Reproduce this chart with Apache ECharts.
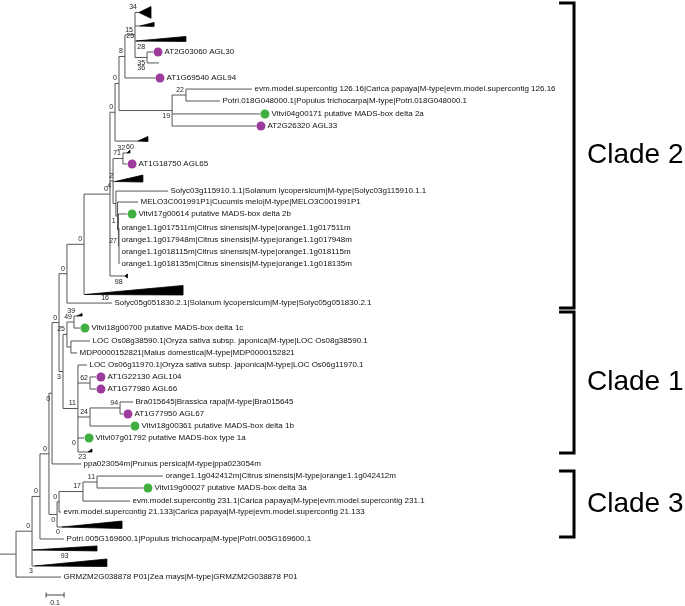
<!DOCTYPE html>
<html><head><meta charset="utf-8">
<script src="https://cdn.jsdelivr.net/npm/echarts@6/dist/echarts.min.js"></script>
<style>html,body{margin:0;padding:0;background:#fff}#c{width:685px;height:606px}</style>
</head><body><div id="c"></div>
<script>
// ---------------- DATA ----------------
// internal nodes: id, parent, depth (branch-length units; 0.1 = scale bar)
const nodeIds    = ['root','R1','AB','AC','AA','Q','P','N','J','I','E','D','A','B','F','G','K','L','SO','SP','SQ','SR','V','U','S','T','Z','W','X','Y','CD','CA','CB','CC'];
const nodeParent = [null,'root','R1','AB','AC','AA','Q','P','N','J','I','E','D','A','E','F','J','K','K','SO','SP','SQ','Q','V','U','U','V','Z','Z','X','AC','CD','CA','CB'];
const nodeDepth  = [0.089,0.178,0.222,0.272,0.289,0.328,0.372,0.467,0.611,0.639,0.661,0.694,0.750,0.817,0.956,1.033,0.628,0.683,0.644,0.653,0.658,0.661,0.350,0.372,0.411,0.394,0.433,0.500,0.500,0.667,0.317,0.328,0.461,0.539];

// terminal taxa
const leafIds = ['agl30','l63','agl94','evm126','potri018','vit04','agl33','agl65','sol03','melo','vit17','or511','or948','or115','or135','sol05','vit18c','loc08','mdp','loc06','agl104','agl66','bra','agl67','vit18b','vit07','ppa','or412','vit19','evm231','evm21','potri005','grmzm'];
const leafLabels = [
 'AT2G03060 AGL30','','AT1G69540 AGL94',
 'evm.model.supercontig 126.16|Carica papaya|M-type|evm.model.supercontig 126.16',
 'Potri.018G048000.1|Populus trichocarpa|M-type|Potri.018G048000.1',
 'Vitvi04g00171 putative MADS-box delta 2a','AT2G26320 AGL33','AT1G18750 AGL65',
 'Solyc03g115910.1.1|Solanum lycopersicum|M-type|Solyc03g115910.1.1',
 'MELO3C001991P1|Cucumis melo|M-type|MELO3C001991P1',
 'Vitvi17g00614 putative MADS-box delta 2b',
 'orange1.1g017511m|Citrus sinensis|M-type|orange1.1g017511m',
 'orange1.1g017948m|Citrus sinensis|M-type|orange1.1g017948m',
 'orange1.1g018115m|Citrus sinensis|M-type|orange1.1g018115m',
 'orange1.1g018135m|Citrus sinensis|M-type|orange1.1g018135m',
 'Solyc05g051830.2.1|Solanum lycopersicum|M-type|Solyc05g051830.2.1',
 'Vitvi18g00700 putative MADS-box delta 1c',
 'LOC Os08g38590.1|Oryza sativa subsp. japonica|M-type|LOC Os08g38590.1',
 'MDP0000152821|Malus domestica|M-type|MDP0000152821',
 'LOC Os06g11970.1|Oryza sativa subsp. japonica|M-type|LOC Os06g11970.1',
 'AT1G22130 AGL104','AT1G77980 AGL66',
 'Bra015645|Brassica rapa|M-type|Bra015645','AT1G77950 AGL67',
 'Vitvi18g00361 putative MADS-box delta 1b','Vitvi07g01792 putative MADS-box type 1a',
 'ppa023054m|Prunus persica|M-type|ppa023054m',
 'orange1.1g042412m|Citrus sinensis|M-type|orange1.1g042412m',
 'Vitvi19g00027 putative MADS-box delta 3a',
 'evm.model.supercontig 231.1|Carica papaya|M-type|evm.model.supercontig 231.1',
 'evm.model.supercontig 21.133|Carica papaya|M-type|evm.model.supercontig 21.133',
 'Potri.005G169600.1|Populus trichocarpa|M-type|Potri.005G169600.1',
 'GRMZM2G038878 P01|Zea mays|M-type|GRMZM2G038878 P01'];
const leafParent = ['B','B','D','G','G','F','F','L','SO','SP','SQ','SR','SR','SR','SR','P','S','T','T','Z','W','W','Y','Y','X','Z','AA','CC','CC','CB','CA','AB','root'];
const leafTip    = [0.850,0.883,0.861,1.400,1.222,1.444,1.422,0.706,0.933,0.767,0.706,0.661,0.661,0.661,0.661,0.622,0.444,0.500,0.428,0.483,0.533,0.533,0.739,0.683,0.722,0.467,0.450,0.906,0.794,0.722,0.339,0.356,0.339];
const leafRow    = [4.26,5.16,6.39,7.30,8.28,9.34,10.33,13.44,15.66,16.56,17.54,18.69,19.67,20.66,21.64,24.84,26.89,27.95,28.93,29.92,30.90,31.89,32.95,33.93,34.92,35.90,38.03,39.02,40.00,41.07,41.97,44.18,47.30];
const leafGroup  = ['At','','At','','','Vv','At','At','','','Vv','','','','','','Vv','','','','At','At','','At','Vv','Vv','','','Vv','','','',''];

// collapsed subtrees (triangles)
const collapsedIds    = ['T1','T2','T3','T4','TT1','T5','T98','T6','TS','TZ','T7','T8','T9'];
const collapsedParent = ['A','A','A','I','L','K','J','N','S','Z','CD','R1','R1'];
const collapsedStem   = [0.772,0.778,0.756,0.767,0.706,0.639,0.694,0.472,0.428,0.489,0.344,0.183,0.194];
const collapsedTip    = [0.839,0.856,1.033,0.822,0.722,0.794,0.708,1.017,0.456,0.511,0.678,0.539,0.594];
const collapsedRow    = [1.02,2.13,3.36,11.56,12.54,14.88,22.62,24.14,25.90,37.05,43.20,45.08,46.39];
const collapsedUp     = [0.48,0.29,0.37,0.37,0.25,0.53,0.16,0.74,0.20,0.25,0.49,0.33,0.57];
const collapsedDown   = [0.48,0.04,0.04,0.04,0,0.04,0.16,0.04,0,0,0.12,0.08,0.04];

// bootstrap support values, the item they belong to, and where they sit
const supportValues = ['34','15','25','28','35','36','8','0','0','22','19','32','60','71','2','0','4','1','27','98','0','0','16','0','39','49','25','3','11','62','94','24','0','23','0','0','0','17','11','0','0','0','0','93','3'];
const supportAt     = ['T1','A','T3','agl30','B','l63','D','E','I','G','F','TT1','TT1','L','T5','J','K','SP','SR','T98','N','P','sol05','Q','TS','S','U','V','Z','W','Y','X','vit07','TZ','AA','AC','CA','CB','CC','CD','T7','AB','R1','T8','T9'];
const supportSide   = ['a','a','a','a','b','b','a','a','a','a','b','a','f','a','a','a','b','b','a','d','a','a','e','a','a','a','a','b','a','a','a','a','b','b','b','a','a','a','a','b','b','a','a','d','b'];

// clade brackets
const groupNames  = ['Clade 2','Clade 1','Clade 3'];
const groupTop    = [0.25, 25.57, 38.61];
const groupBottom = [25.25, 37.13, 44.02];

// scale bar
const scaleLength = 0.1;
const scaleStart  = 0.256;
const scaleRow    = 48.77;

// ---------------- LAYOUT ----------------
const X_MAX = 3.8, Y_MAX = 606 / 12.2;
const FONT = '"Liberation Sans", Arial, Helvetica, sans-serif';
const BRACKET_X = 3.189, BRACKET_TICK = 3.106, GROUP_LABEL_X = 3.261;

const nIdx = {}; nodeIds.forEach((id, i) => nIdx[id] = i);
const leafIdx = {}; leafIds.forEach((id, i) => leafIdx[id] = i);
const colIdx = {}; collapsedIds.forEach((id, i) => colIdx[id] = i);
const dep = id => nodeDepth[nIdx[id]];

const termYs = nodeIds.map(() => []);
leafIds.forEach((_, i) => termYs[nIdx[leafParent[i]]].push(leafRow[i]));
collapsedIds.forEach((_, i) => termYs[nIdx[collapsedParent[i]]].push(collapsedRow[i]));
const nodeKids = nodeIds.map(() => []);
nodeParent.forEach((p, i) => { if (p) nodeKids[nIdx[p]].push(i); });
const nodeY = [], nodeSpan = [];
function solve(i) {
  if (nodeY[i] !== undefined) return nodeY[i];
  const ys = termYs[i].slice();
  nodeKids[i].forEach(c => ys.push(solve(c)));
  const lo = Math.min(...ys), hi = Math.max(...ys);
  nodeSpan[i] = [lo, hi]; nodeY[i] = (lo + hi) / 2;
  return nodeY[i];
}
nodeIds.forEach((_, i) => solve(i));

const segs = [];
nodeIds.forEach((id, i) => {
  const p = nodeParent[i];
  segs.push([p ? dep(p) : 0, nodeY[i], nodeDepth[i], nodeY[i]]);
  segs.push([nodeDepth[i], nodeSpan[i][0], nodeDepth[i], nodeSpan[i][1]]);
});
leafIds.forEach((_, i) => segs.push([dep(leafParent[i]), leafRow[i], leafTip[i], leafRow[i]]));
collapsedIds.forEach((_, i) => segs.push([dep(collapsedParent[i]), collapsedRow[i], collapsedStem[i], collapsedRow[i]]));

// anchors for support labels: [start, end, mid, y]
function anchor(id) {
  if (id in nIdx) { const i = nIdx[id]; const p = nodeParent[i];
    return [nodeDepth[i], nodeDepth[i], ((p ? dep(p) : 0) + nodeDepth[i]) / 2, nodeY[i]]; }
  if (id in leafIdx) { const i = leafIdx[id]; const s = dep(leafParent[i]);
    return [s, leafTip[i], (s + leafTip[i]) / 2, leafRow[i]]; }
  const i = colIdx[id]; const s = dep(collapsedParent[i]);
  return [collapsedStem[i], collapsedTip[i], (s + collapsedTip[i]) / 2, collapsedRow[i]];
}
const supportData = supportAt.map(anchor);

const dotColor = { At: '#850a85', Vv: '#109a10' };
const dotData = [];
leafIds.forEach((_, i) => { if (leafGroup[i]) dotData.push({ value: [leafTip[i], leafRow[i]], itemStyle: { color: dotColor[leafGroup[i]] } }); });

const chart = echarts.init(document.getElementById('c'));
chart.setOption({
  animation: false,
  backgroundColor: '#fff',
  grid: { left: 0, top: 0, width: 684, height: 606 },
  xAxis: { type: 'value', min: 0, max: X_MAX, show: false },
  yAxis: { type: 'value', min: 0, max: Y_MAX, inverse: true, show: false },
  series: [
    { // branches
      type: 'custom', silent: true, z: 2, encode: { x: [0, 2], y: [1, 3] },
      data: segs,
      renderItem: (params, api) => {
        const a = api.coord([api.value(0), api.value(1)]);
        const b = api.coord([api.value(2), api.value(3)]);
        return { type: 'line', shape: { x1: a[0], y1: a[1], x2: b[0], y2: b[1] },
                 style: { stroke: '#555', lineWidth: 1 } };
      }
    },
    { // collapsed subtrees
      type: 'custom', silent: true, z: 3, encode: { x: [0, 2], y: 1 },
      data: collapsedIds.map((_, i) => [collapsedStem[i], collapsedRow[i], collapsedTip[i], collapsedUp[i], collapsedDown[i]]),
      renderItem: (params, api) => {
        const x0 = api.value(0), y = api.value(1), x1 = api.value(2);
        const a = api.coord([x0, y]);
        const b = api.coord([x1, y - api.value(3)]);
        const c = api.coord([x1, y + api.value(4)]);
        return { type: 'polygon', shape: { points: [a, b, c] },
                 style: { fill: '#000', stroke: '#000', lineWidth: 0.8 } };
      }
    },
    { // markers
      type: 'scatter', silent: true, z: 4, symbol: 'circle', symbolSize: 9,
      symbolOffset: [5, 0], data: dotData
    },
    { // leaf labels
      type: 'custom', silent: true, z: 5, encode: { x: 0, y: 1 },
      data: leafIds.map((_, i) => [leafTip[i], leafRow[i]]),
      renderItem: (params, api) => {
        const i = params.dataIndex;
        const p = api.coord([api.value(0), api.value(1)]);
        return { type: 'text', x: p[0] + (leafGroup[i] ? 11.5 : 2.5), y: p[1],
                 style: { text: leafLabels[i], fill: '#111', font: '8px ' + FONT, align: 'left', verticalAlign: 'middle' } };
      }
    },
    { // support values
      type: 'custom', silent: true, z: 5, encode: { x: 0, y: 3 },
      data: supportData,
      renderItem: (params, api) => {
        const i = params.dataIndex, side = supportSide[i];
        const y = api.value(3);
        const s = api.coord([api.value(0), y]), e = api.coord([api.value(1), y]), m = api.coord([api.value(2), y]);
        let x, yy, align = 'right';
        if (side === 'a') { x = s[0] - 2; yy = s[1] - 5; }
        else if (side === 'b') { x = s[0] - 2; yy = s[1] + 5.5; }
        else if (side === 'd') { x = m[0]; yy = m[1] + 6.5; align = 'center'; }
        else if (side === 'e') { x = e[0] - 3; yy = e[1] - 5; }
        else { x = e[0]; yy = e[1] - 6; align = 'center'; }
        return { type: 'text', x: x, y: yy,
                 style: { text: supportValues[i], fill: '#222', font: '7px ' + FONT, align: align, verticalAlign: 'middle' } };
      }
    },
    { // clade brackets + names
      type: 'custom', silent: true, z: 5, encode: { x: 0, y: [1, 2] },
      data: groupNames.map((_, i) => [BRACKET_X, groupTop[i], groupBottom[i]]),
      renderItem: (params, api) => {
        const i = params.dataIndex;
        const t = api.value(1), b = api.value(2);
        const p1 = api.coord([BRACKET_TICK, t]), p2 = api.coord([BRACKET_X, t]);
        const p3 = api.coord([BRACKET_X, b]), p4 = api.coord([BRACKET_TICK, b]);
        const lab = api.coord([GROUP_LABEL_X, (t + b) / 2]);
        return { type: 'group', children: [
          { type: 'polyline', shape: { points: [p1, p2, p3, p4] }, style: { stroke: '#000', lineWidth: 3, fill: null, lineJoin: 'miter' } },
          { type: 'text', x: lab[0], y: lab[1], style: { text: groupNames[i], fill: '#000', font: '28px ' + FONT, align: 'left', verticalAlign: 'middle' } }
        ] };
      }
    },
    { // scale bar
      type: 'custom', silent: true, z: 5, encode: { x: 0, y: 1 },
      data: [[scaleStart, scaleRow, scaleStart + scaleLength]],
      renderItem: (params, api) => {
        const a = api.coord([api.value(0), api.value(1)]);
        const b = api.coord([api.value(2), api.value(1)]);
        const st = { stroke: '#444', lineWidth: 1 };
        return { type: 'group', children: [
          { type: 'line', shape: { x1: a[0], y1: a[1], x2: b[0], y2: b[1] }, style: st },
          { type: 'line', shape: { x1: a[0], y1: a[1] - 2.5, x2: a[0], y2: a[1] + 2.5 }, style: st },
          { type: 'line', shape: { x1: b[0], y1: b[1] - 2.5, x2: b[0], y2: b[1] + 2.5 }, style: st },
          { type: 'text', x: (a[0] + b[0]) / 2, y: a[1] + 8, style: { text: String(scaleLength), fill: '#222', font: '7px ' + FONT, align: 'center', verticalAlign: 'middle' } }
        ] };
      }
    }
  ]
});
</script>
</body></html>
